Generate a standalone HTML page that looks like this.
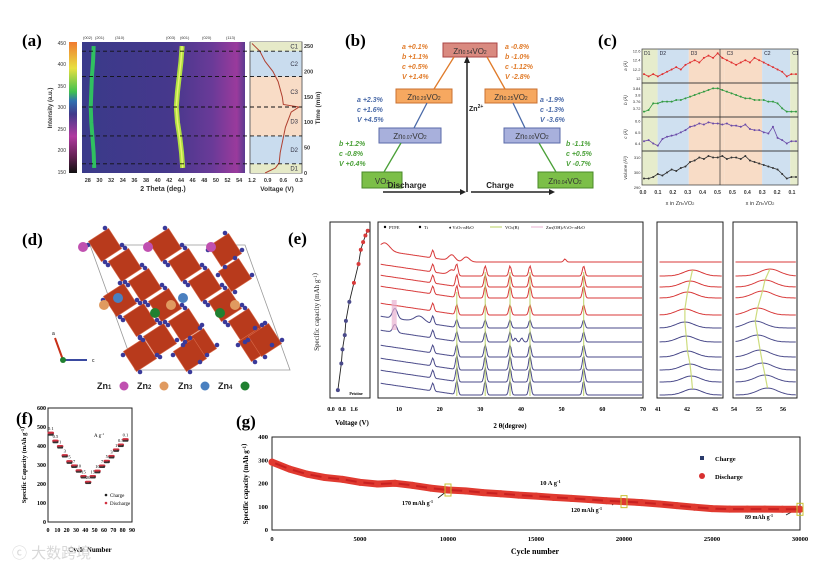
<!DOCTYPE html>
<html><head><meta charset="utf-8">
<style>
html,body{margin:0;padding:0;background:#fff;}
svg{display:block;font-family:"Liberation Serif",serif;}
.s{font-family:"Liberation Sans",sans-serif;}
</style></head>
<body>
<svg id="fig" width="830" height="565" viewBox="0 0 830 565" xmlns="http://www.w3.org/2000/svg">
<defs>
<linearGradient id="cbar" x1="0" y1="0" x2="0" y2="1">
<stop offset="0" stop-color="#f07a30"/><stop offset="0.2" stop-color="#e8e040"/><stop offset="0.38" stop-color="#40c050"/><stop offset="0.45" stop-color="#3070b0"/><stop offset="0.55" stop-color="#403a8a"/><stop offset="0.72" stop-color="#b03aa0"/><stop offset="0.88" stop-color="#602050"/><stop offset="1" stop-color="#101010"/>
</linearGradient>
<linearGradient id="hm" x1="0" y1="0" x2="1" y2="0">
<stop offset="0" stop-color="#3a3a8a"/><stop offset="0.55" stop-color="#46388c"/><stop offset="0.8" stop-color="#6a3a98"/><stop offset="0.95" stop-color="#9a3a9c"/><stop offset="1" stop-color="#5a3a90"/>
</linearGradient>
</defs>
<rect width="830" height="565" fill="#fff"/>

<g id="pa">
<text x="22" y="46" font-size="17" font-weight="bold">(a)</text>
<rect x="69" y="42" width="8" height="131" fill="url(#cbar)"/>
<rect x="82" y="42" width="163" height="131" fill="url(#hm)"/>
<rect x="250" y="42" width="52" height="131" fill="#fff" stroke="#444" stroke-width="0.8"/>
<g class="s" font-size="5" fill="#333" text-anchor="end">
<text x="66" y="45">450</text><text x="66" y="66">400</text><text x="66" y="88">350</text><text x="66" y="109">300</text><text x="66" y="131">250</text><text x="66" y="152">200</text><text x="66" y="174">150</text>
</g>
<text class="s" transform="translate(52,108) rotate(-90)" font-size="6" font-weight="bold" text-anchor="middle" fill="#333">Intensity (a.u.)</text>
<g class="s" font-size="4" fill="#333">
<text x="83" y="39">(002)</text><text x="95" y="39">(201)</text><text x="115" y="39">(310)</text><text x="166" y="39">(003)</text><text x="180" y="39">(601)</text><text x="202" y="39">(020)</text><text x="226" y="39">(113)</text>
</g>
<text class="s" x="163" y="191" font-size="7" font-weight="bold" text-anchor="middle" fill="#333">2 Theta (deg.)</text>
<text class="s" x="277" y="191" font-size="6.5" font-weight="bold" text-anchor="middle" fill="#333">Voltage (V)</text>
<text class="s" transform="translate(320,108) rotate(-90)" font-size="6.5" font-weight="bold" text-anchor="middle" fill="#333">Time (min)</text>
<g id="pa-dyn"></g>
</g>

<g id="pb" class="s">
<text x="345" y="46" font-size="17" font-weight="bold" font-family="Liberation Serif,serif">(b)</text>
<rect x="443" y="43" width="54" height="14" fill="#d98a80" stroke="#a44"/>
<text x="470" y="54" font-size="8" text-anchor="middle" fill="#333">Zn<tspan font-size="5">0.54</tspan>VO<tspan font-size="5">2</tspan></text>
<rect x="396" y="89" width="56" height="14" fill="#f6a860" stroke="#c97030"/>
<text x="424" y="100" font-size="8" text-anchor="middle" fill="#333">Zn<tspan font-size="5">0.29</tspan>VO<tspan font-size="5">2</tspan></text>
<rect x="379" y="128" width="62" height="15" fill="#a8b0dc" stroke="#5a6aa8"/>
<text x="410" y="139" font-size="8" text-anchor="middle" fill="#333">Zn<tspan font-size="5">0.07</tspan>VO<tspan font-size="5">2</tspan></text>
<rect x="362" y="172" width="40" height="16" fill="#7cbf48" stroke="#4a8a28"/>
<text x="382" y="184" font-size="8" text-anchor="middle" fill="#333">VO<tspan font-size="5">2</tspan></text>
<rect x="485" y="89" width="52" height="14" fill="#f6a860" stroke="#c97030"/>
<text x="511" y="100" font-size="8" text-anchor="middle" fill="#333">Zn<tspan font-size="5">0.25</tspan>VO<tspan font-size="5">2</tspan></text>
<rect x="504" y="128" width="56" height="15" fill="#a8b0dc" stroke="#5a6aa8"/>
<text x="532" y="139" font-size="8" text-anchor="middle" fill="#333">Zn<tspan font-size="5">0.00</tspan>VO<tspan font-size="5">2</tspan></text>
<rect x="538" y="172" width="55" height="16" fill="#7cbf48" stroke="#4a8a28"/>
<text x="565" y="184" font-size="8" text-anchor="middle" fill="#333">Zn<tspan font-size="5">0.04</tspan>VO<tspan font-size="5">2</tspan></text>
<g stroke-width="1.3" fill="none">
<line x1="384" y1="172" x2="401" y2="143" stroke="#4aa038"/>
<line x1="414" y1="128" x2="427" y2="103" stroke="#4a6aa8"/>
<line x1="434" y1="89" x2="454" y2="57" stroke="#e07b2a"/>
<line x1="487" y1="57" x2="505" y2="89" stroke="#e07b2a"/>
<line x1="513" y1="103" x2="525" y2="128" stroke="#4a6aa8"/>
<line x1="539" y1="143" x2="556" y2="172" stroke="#4aa038"/>
<line x1="467" y1="192" x2="467" y2="60" stroke="#222" stroke-width="1.5"/>
<line x1="383" y1="192" x2="462" y2="192" stroke="#222" stroke-width="1.5"/>
<line x1="471" y1="192" x2="551" y2="192" stroke="#222" stroke-width="1.5"/>
</g>
<g fill="#222">
<path d="M467,56 l-3,7 h6z"/><path d="M466,192 l-6,-3 v6z"/><path d="M555,192 l-6,-3 v6z"/>
</g>
<text x="407" y="188" font-size="8" font-weight="bold" text-anchor="middle" fill="#222">Discharge</text>
<text x="500" y="188" font-size="8" font-weight="bold" text-anchor="middle" fill="#222">Charge</text>
<text x="469" y="111" font-size="7" font-weight="bold" fill="#222">Zn<tspan font-size="5" dy="-3">2+</tspan></text>
<g font-size="7" font-weight="bold" font-style="italic">
<g fill="#e07b2a"><text x="402" y="49">a +0.1%</text><text x="402" y="59">b +1.1%</text><text x="402" y="69">c +0.5%</text><text x="402" y="79">V +1.4%</text>
<text x="505" y="49">a -0.8%</text><text x="505" y="59">b -1.0%</text><text x="505" y="69">c -1.12%</text><text x="505" y="79">V -2.8%</text></g>
<g fill="#4a6aa8"><text x="357" y="102">a +2.3%</text><text x="357" y="112">c +1.6%</text><text x="357" y="122">V +4.5%</text>
<text x="540" y="102">a -1.9%</text><text x="540" y="112">c -1.3%</text><text x="540" y="122">V -3.6%</text></g>
<g fill="#4aa038"><text x="339" y="146">b +1.2%</text><text x="339" y="156">c -0.8%</text><text x="339" y="166">V +0.4%</text>
<text x="566" y="146">b -1.1%</text><text x="566" y="156">c +0.5%</text><text x="566" y="166">V -0.7%</text></g>
</g>
</g>

<g id="pc" class="s">
<text x="598" y="46" font-size="17" font-weight="bold" font-family="Liberation Serif,serif">(c)</text>
<g id="pc-dyn"></g>
<text x="680" y="205" font-size="5.5" text-anchor="middle" fill="#333">x in Zn<tspan font-size="4">x</tspan>VO<tspan font-size="4">2</tspan></text>
<text x="760" y="205" font-size="5.5" text-anchor="middle" fill="#333">x in Zn<tspan font-size="4">x</tspan>VO<tspan font-size="4">2</tspan></text>
</g>

<g id="pd">
<text x="22" y="245" font-size="17" font-weight="bold">(d)</text>
<g id="pd-dyn"></g>
<g class="s" font-size="9" font-weight="bold" fill="#222">
<text x="97" y="389">Zn<tspan font-size="6">1</tspan></text><circle cx="124" cy="386" r="4.5" fill="#c050b0"/>
<text x="137" y="389">Zn<tspan font-size="6">2</tspan></text><circle cx="164" cy="386" r="4.5" fill="#e09a60"/>
<text x="178" y="389">Zn<tspan font-size="6">3</tspan></text><circle cx="205" cy="386" r="4.5" fill="#4a80c0"/>
<text x="218" y="389">Zn<tspan font-size="6">4</tspan></text><circle cx="245" cy="386" r="4.5" fill="#208030"/>
</g>
<g>
<line x1="63" y1="360" x2="55" y2="338" stroke="#c83018" stroke-width="2"/>
<line x1="63" y1="360" x2="87" y2="360" stroke="#3a4aa0" stroke-width="2"/>
<circle cx="63" cy="360" r="3" fill="#208030"/>
<text x="52" y="335" font-size="5" class="s">a</text><text x="92" y="362" font-size="5" class="s">c</text>
</g>
</g>

<g id="pe">
<text x="288" y="244" font-size="17" font-weight="bold">(e)</text>
<rect x="330" y="222" width="40" height="176" fill="none" stroke="#222"/>
<rect x="378" y="222" width="265" height="176" fill="none" stroke="#222"/>
<rect x="657" y="222" width="66" height="176" fill="none" stroke="#222"/>
<rect x="733" y="222" width="64" height="176" fill="none" stroke="#222"/>
<text transform="translate(319,312) rotate(-90)" font-size="7" text-anchor="middle" fill="#222">Specific capacity (mAh g<tspan font-size="5" dy="-2">-1</tspan>)</text>
<text x="352" y="425" font-size="7" font-weight="bold" text-anchor="middle">Voltage (V)</text>
<text x="510" y="428" font-size="7" font-weight="bold" text-anchor="middle">2 θ(degree)</text>
<g font-size="6" font-weight="bold" text-anchor="middle"><text x="331" y="411">0.0</text><text x="342" y="411">0.8</text><text x="354" y="411">1.6</text></g>
<text x="356" y="395" font-size="4" font-weight="bold" text-anchor="middle">Pristine</text>
<g font-size="4.5">
<circle cx="385" cy="227" r="1.2"/><text x="389" y="229">PTFE</text>
<circle cx="420" cy="227" r="1.2"/><text x="424" y="229">Ti</text>
<text x="449" y="229">♦ V<tspan font-size="3">2</tspan>O<tspan font-size="3">5</tspan>·nH<tspan font-size="3">2</tspan>O</text>
<line x1="490" y1="227" x2="502" y2="227" stroke="#b8d060"/><text x="505" y="229">VO<tspan font-size="3">2</tspan>(B)</text>
<line x1="531" y1="227" x2="543" y2="227" stroke="#e8b0d0"/><text x="546" y="229">Zn<tspan font-size="3">3</tspan>(OH)<tspan font-size="3">2</tspan>V<tspan font-size="3">2</tspan>O<tspan font-size="3">7</tspan>·nH<tspan font-size="3">2</tspan>O</text>
</g>
<g id="pe-dyn"></g>
</g>

<g id="pf">
<text x="16" y="424" font-size="17" font-weight="bold">(f)</text>
<rect x="48" y="408" width="84" height="114" fill="none" stroke="#222"/>
<text transform="translate(26,465) rotate(-90)" font-size="6.5" font-weight="bold" text-anchor="middle">Specific Capacity (mAh g<tspan font-size="4.5" dy="-2">-1</tspan>)</text>
<text x="90" y="552" font-size="7" font-weight="bold" text-anchor="middle">Cycle Number</text>
<text x="94" y="437" font-size="5">A g<tspan font-size="3.5" dy="-2">-1</tspan></text>
<g font-size="5">
<circle cx="106" cy="495" r="1.3" fill="#222"/><text x="110" y="497">Charge</text>
<circle cx="106" cy="503" r="1.3" fill="#d03040"/><text x="110" y="505">Discharge</text>
</g>
<g id="pf-dyn"></g>
</g>

<g id="pg">
<text x="236" y="427" font-size="17" font-weight="bold">(g)</text>
<rect x="272" y="437" width="528" height="93" fill="none" stroke="#222"/>
<text transform="translate(248,484) rotate(-90)" font-size="7" font-weight="bold" text-anchor="middle">Specific capacity (mAh g<tspan font-size="5" dy="-2">-1</tspan>)</text>
<text x="535" y="554" font-size="8" font-weight="bold" text-anchor="middle">Cycle number</text>
<g font-size="6.5" font-weight="bold">
<rect x="700" y="456" width="4" height="4" fill="#2a3a6a"/><text x="715" y="461">Charge</text>
<circle cx="702" cy="476" r="3" fill="#d83030"/><text x="715" y="479">Discharge</text>
</g>
<text x="540" y="485" font-size="6.5" font-weight="bold">10 A g<tspan font-size="4.5" dy="-2">-1</tspan></text>
<g font-size="6" font-weight="bold">
<text x="402" y="505">170 mAh g<tspan font-size="4" dy="-2">-1</tspan></text>
<text x="571" y="512">120 mAh g<tspan font-size="4" dy="-2">-1</tspan></text>
<text x="745" y="519">89 mAh g<tspan font-size="4" dy="-2">-1</tspan></text>
<line x1="438" y1="498" x2="447" y2="491" stroke="#222" stroke-width="0.8"/>
<line x1="612" y1="505" x2="622" y2="499" stroke="#222" stroke-width="0.8"/>
<line x1="786" y1="515" x2="797" y2="509" stroke="#222" stroke-width="0.8"/>
</g>
<g id="pg-dyn"></g>
</g>

<text x="12" y="558" font-size="15" fill="#d8d8d8" font-family="Liberation Sans,'Noto Sans CJK SC',sans-serif">ⓒ 大数跨境</text>
</svg>

<script>
const aTimes = [250, 220, 190, 160, 130, 100, 70, 40, 10];
const aPeakLow = [29.0, 28.9, 28.7, 28.6, 28.5, 28.6, 28.8, 29.0, 29.1];
const aPeakHigh = [44.2, 44.0, 43.7, 43.4, 43.2, 43.4, 43.8, 44.1, 44.3];
const aTimeTicks = [0, 50, 100, 150, 200, 250];
const aThetaTicks = [28, 30, 32, 34, 36, 38, 40, 42, 44, 46, 48, 50, 52, 54];
const aVoltTicks = [1.2, 0.9, 0.6, 0.3];
const aCurveTime = [0, 10, 20, 40, 60, 90, 120, 130, 135, 150, 180, 200, 220, 240, 250, 255];
const aCurveVolt = [0.95, 0.75, 0.68, 0.66, 0.62, 0.56, 0.45, 0.3, 0.6, 0.62, 0.7, 0.8, 0.95, 1.05, 1.15, 1.2];
const aStageBounds = [0, 18, 73, 130, 190, 240, 258];
const aStageNames = ["D1", "D2", "D3", "C3", "C2", "C1"];

const cA = [12.1,12.05,12.1,12.05,12.1,12.15,12.2,12.25,12.2,12.3,12.35,12.4,12.35,12.45,12.5,12.45,12.55,12.45,12.4,12.35,12.3,12.35,12.4,12.35,12.45,12.4,12.35,12.3,12.25,12.2,12.15,12.05,12.1,12.1];
const cB = [3.70,3.71,3.75,3.75,3.76,3.76,3.76,3.77,3.77,3.78,3.79,3.80,3.81,3.82,3.83,3.84,3.84,3.83,3.82,3.81,3.80,3.79,3.78,3.78,3.77,3.77,3.77,3.76,3.76,3.75,3.72,3.70,3.70,3.70];
const cC = [6.42,6.43,6.40,6.38,6.44,6.46,6.47,6.48,6.50,6.52,6.55,6.56,6.58,6.57,6.59,6.58,6.58,6.57,6.58,6.56,6.56,6.55,6.57,6.53,6.52,6.52,6.50,6.49,6.55,6.45,6.43,6.40,6.42,6.42];
const cV = [296,296,297,299,298,300,302,301,303,304,307,308,310,309,311,310,310,311,309,310,310,309,311,308,307,306,305,304,303,302,299,296,297,297];
const cRanges = [[11.95,12.6],[3.68,3.86],[6.35,6.62],[293,313]];
const cYTicks = [[12.0,12.2,12.4,12.6],[3.72,3.76,3.80,3.84],[6.4,6.5,6.6],[290,300,310]];
const cYLabels = ["a (Å)", "b (Å)", "c (Å)", "Volume (Å³)"];
const cXLabels = ["0.0","0.1","0.2","0.3","0.4","0.5","0.5","0.4","0.3","0.2","0.1"];
const cBandEdges = [0, 0.10, 0.30, 0.53, 0.77, 0.95, 1.0];
const cBandNames = ["D1","D2","D3","C3","C2","C1"];

const eTraceTypes = ["red","red","red","red","red","blue","blue","blue","blue","blue","blue"];
const eTraceBase = [262, 276, 287, 298, 315, 328, 342, 357, 370, 382, 395];
const eVO2Peaks = [24.2, 31.2, 37.3, 42.2, 55.4];
const eVO2Height = [0, 10, 12, 12, 10, 8, 10, 12, 14, 14, 14];
const eTiPeak = 18.3;
const ePeak42 = [42.3, 42.2, 42.1, 42.0, 41.9, 41.9, 41.95, 42.0, 42.1, 42.15, 42.2];
const ePeak55 = [55.4, 55.3, 55.1, 55.0, 54.8, 54.7, 54.8, 54.9, 55.0, 55.1, 55.2];
const eXTicks = [10, 20, 30, 40, 50, 60, 70];
const eVolt = [0.3, 0.45, 0.5, 0.6, 0.65, 0.8, 1.0, 1.2, 1.3, 1.4, 1.5, 1.6];
const eCap = [2, 30, 45, 60, 75, 95, 115, 135, 150, 158, 165, 170];

const fRates = ["0.1","0.5","1","3","5","7","10","15","20","15","10","7","5","3","1","0.5","0.1"];
const fCharge = [460,420,392,345,312,290,265,235,205,235,262,290,315,340,375,400,428];
const fDischarge = [468,426,398,350,318,296,270,240,210,240,268,295,320,346,380,406,434];
const fXTicks = [0,10,20,30,40,50,60,70,80,90];
const fYTicks = [0,100,200,300,400,500,600];

const gCycles = [0,1000,2000,3000,4000,5000,6000,7000,8000,9000,10000,11000,12000,13000,14000,15000,16000,17000,18000,19000,20000,21000,22000,23000,24000,25000,26000,27000,28000,29000,30000];
const gCapacity = [292,262,240,226,218,205,198,201,192,180,172,168,161,156,150,146,140,136,131,126,122,118,112,105,98,92,90,90,90,89,89];
const gXTicks = [0,5000,10000,15000,20000,25000,30000];
const gYTicks = [0,100,200,300,400];

const NS = "http://www.w3.org/2000/svg";
function mk(tag, attrs, parent) {
  const el = document.createElementNS(NS, tag);
  for (const k in attrs) el.setAttribute(k, attrs[k]);
  parent.appendChild(el);
  return el;
}
function lin(d0, d1, r0, r1) { return v => r0 + (v - d0) / (d1 - d0) * (r1 - r0); }

(function () {
  const g = document.getElementById("pa-dyn");
  const xT = lin(27, 55, 82, 245);
  const yT = lin(0, 258, 173, 42);
  let d1 = "", d2 = "";
  aTimes.forEach((t, i) => {
    d1 += (i ? "L" : "M") + xT(aPeakLow[i]) + "," + yT(t);
    d2 += (i ? "L" : "M") + xT(aPeakHigh[i]) + "," + yT(t);
  });
  let p = mk("path", { d: d1, stroke: "#30c060", "stroke-width": 4, fill: "none", "stroke-linejoin": "round" }, g);
  
  
  p = mk("path", { d: d2, stroke: "#b0e040", "stroke-width": 5, fill: "none", "stroke-linejoin": "round" }, g);
  
  
  p = mk("path", { d: d2, stroke: "#e8f070", "stroke-width": 1.5, fill: "none" }, g);
  
  
  const bandCol = ["#e6eac8", "#c9dcee", "#f8dcc6", "#f8dcc6", "#c9dcee", "#e6eac8"];
  const xV = lin(1.2, 0.3, 252, 299);
  aStageNames.forEach((n, i) => {
    const r = mk("rect", { x: 250.5, y: yT(aStageBounds[i + 1]), width: 51, height: yT(aStageBounds[i]) - yT(aStageBounds[i + 1]), fill: bandCol[i] }, g);
    
    
    const t = mk("text", { x: 298, y: (yT(aStageBounds[i]) + yT(aStageBounds[i + 1])) / 2 + 2, "font-size": 6, "text-anchor": "end", fill: "#334", class: "s" }, g);
    t.textContent = n;
    
    
  });
  let dv = "";
  aCurveTime.forEach((t, i) => { dv += (i ? "L" : "M") + xV(aCurveVolt[i]) + "," + yT(t); });
  p = mk("path", { d: dv, stroke: "#b04030", "stroke-width": 1, fill: "none" }, g);
  
  
  aStageBounds.slice(1, 6).forEach((b, i) => {
    const l = mk("line", { x1: 82, x2: 302, y1: yT(b), y2: yT(b), stroke: "#111", "stroke-width": 0.9, "stroke-dasharray": "4,3" }, g);
    
    
  });
  aThetaTicks.forEach(v => {
    const t = mk("text", { x: xT(v), y: 182, "font-size": 5.5, "text-anchor": "middle", fill: "#333", class: "s", "font-weight": "bold" }, g);
    t.textContent = v;
    
    
  });
  aVoltTicks.forEach(v => {
    const t = mk("text", { x: xV(v), y: 182, "font-size": 5.5, "text-anchor": "middle", fill: "#333", class: "s", "font-weight": "bold" }, g);
    t.textContent = v.toFixed(1);
    
    
  });
  aTimeTicks.forEach(v => {
    const t = mk("text", { x: 304, y: yT(v) + 2, "font-size": 5.5, fill: "#333", class: "s", "font-weight": "bold" }, g);
    t.textContent = v;
    
    
  });
})();

(function () {
  const g = document.getElementById("pc-dyn");
  const x0 = 642, x1 = 798, y0 = 49, h = 34;
  const bandCol = ["#e6eccc", "#cfe0f0", "#f8dcc6", "#f8dcc6", "#cfe0f0", "#e6eccc"];
  cBandNames.forEach((n, i) => {
    const r = mk("rect", { x: x0 + cBandEdges[i] * (x1 - x0), y: y0, width: (cBandEdges[i + 1] - cBandEdges[i]) * (x1 - x0), height: 4 * h, fill: bandCol[i] }, g);
    
    
    const t = mk("text", { x: x0 + cBandEdges[i] * (x1 - x0) + 2, y: y0 + 6, "font-size": 5, fill: "#223" }, g);
    t.textContent = n;
    
    
  });
  const series = [cA, cB, cC, cV];
  const cols = ["#e03030", "#309a40", "#6a4aa8", "#333"];
  const xs = lin(0, cA.length - 1, x0 + 2, x1 - 2);
  series.forEach((s, k) => {
    const ys = lin(cRanges[k][0], cRanges[k][1], y0 + (k + 1) * h - 2, y0 + k * h + 2);
    let d = "";
    s.forEach((v, i) => { d += (i ? "L" : "M") + xs(i).toFixed(1) + "," + ys(v).toFixed(1); });
    const p = mk("path", { d: d, stroke: cols[k], "stroke-width": 0.8, fill: "none" }, g);
    
    
    s.forEach((v, i) => {
      const c = mk("circle", { cx: xs(i), cy: ys(v), r: 1, fill: cols[k] }, g);
      
      
    });
    cYTicks[k].forEach(v => {
      const t = mk("text", { x: x0 - 1.5, y: ys(v) + 1.5, "font-size": 4, "text-anchor": "end", fill: "#333" }, g);
      t.textContent = v;
      
      
    });
    const t = mk("text", { transform: "translate(" + (x0 - 15) + "," + (y0 + k * h + h / 2) + ") rotate(-90)", "font-size": 4.5, "text-anchor": "middle", fill: "#333", "font-style": "italic" }, g);
    t.textContent = cYLabels[k];
    
    
    const fr = mk("rect", { x: x0, y: y0 + k * h, width: x1 - x0, height: h, fill: "none", stroke: "#333", "stroke-width": 0.7 }, g);
    
    
  });
  const mid = mk("line", { x1: (x0 + x1) / 2, x2: (x0 + x1) / 2, y1: y0, y2: y0 + 4 * h, stroke: "#333", "stroke-width": 0.7 }, g);
  
  
  const xl = lin(0, cXLabels.length - 1, x0 + 1, x1 - 6);
  cXLabels.forEach((v, i) => {
    const t = mk("text", { x: xl(i), y: 194, "font-size": 5, "text-anchor": "middle", fill: "#333", "font-weight": "bold" }, g);
    t.textContent = v;
    
    
  });
})();

(function () {
  const g = document.getElementById("pd-dyn");
  const cell = mk("path", { d: "M90,245 L245,245 L290,370 L135,370 Z", fill: "none", stroke: "#999", "stroke-width": 0.8 }, g);
  
  
  const oct = [[105,245],[125,265],[145,285],[165,305],[185,325],[200,345],[165,245],[185,265],[205,285],[225,305],[245,325],[255,345],
               [120,300],[140,320],[160,340],[225,250],[235,275],[265,340],[190,355],[140,355]];
  oct.forEach(o => {
    const s = 17;
    const p = mk("path", { d: `M${o[0]},${o[1]-s} L${o[0]+s},${o[1]} L${o[0]},${o[1]+s} L${o[0]-s},${o[1]} Z`, fill: "#b83a1c", stroke: "#d86a4a", "stroke-width": 0.6, transform: `rotate(12 ${o[0]} ${o[1]})` }, g);
    
    
  });
  oct.forEach(o => {
    [[0,-17],[17,0],[0,17],[-17,0]].forEach(dd => {
      const c = mk("circle", { cx: o[0] + dd[0], cy: o[1] + dd[1], r: 2.3, fill: "#3a3a9a" }, g);
      
      
    });
  });
  const zn = [[83,247,"#c050b0"],[148,247,"#c050b0"],[211,247,"#c050b0"],[104,305,"#e09a60"],[171,305,"#e09a60"],[235,305,"#e09a60"],[118,298,"#4a80c0"],[183,298,"#4a80c0"],[155,313,"#208030"],[220,313,"#208030"]];
  zn.forEach(z => {
    const c = mk("circle", { cx: z[0], cy: z[1], r: 5, fill: z[2] }, g);
    
    
  });
})();

(function () {
  const g = document.getElementById("pe-dyn");
  const xs = lin(5, 70, 378.7, 643);
  const x2 = lin(40.8, 43.4, 657, 723);
  const x3 = lin(53.8, 56.4, 733, 797);
  const pk = (x, c, w, h) => h * Math.exp(-((x - c) * (x - c)) / (2 * w * w));
  eTraceBase.forEach((b, i) => {
    let d = "";
    for (let x = 5.5; x <= 69.8; x += 0.25) {
      let y = b - Math.max(0, (25 - x)) * 0.6;
      y -= pk(x, eTiPeak, 0.3, 8);
      if (i === 0) { y -= pk(x, 6.5, 1.2, 8) + pk(x, 23, 0.8, 6) + pk(x, 26.5, 0.8, 5) + pk(x, 50.8, 0.3, 3); }
      if (i === 1) { y -= pk(x, 23, 0.8, 5); }
      if (i === 5) { y -= pk(x, 9, 0.6, 10) + pk(x, 15, 1.2, 6); }
      if (i === 6) { y -= pk(x, 9, 0.5, 8) + pk(x, 38.6, 0.3, 4) + pk(x, 40.2, 0.3, 4); }
      eVO2Peaks.forEach(p => { y -= pk(x, p, 0.3, eVO2Height[i]); });
      d += (d ? "L" : "M") + xs(x).toFixed(1) + "," + y.toFixed(1);
    }
    const col = eTraceTypes[i] === "red" ? "#d83a3a" : "#4a4a8a";
    const p = mk("path", { d: d, stroke: col, "stroke-width": 1, fill: "none" }, g);
    
    
    let d2 = "", d3 = "";
    for (let x = 40.9; x <= 43.35; x += 0.05) d2 += (d2 ? "L" : "M") + x2(x).toFixed(1) + "," + (b - pk(x, ePeak42[i], 0.35, i === 0 ? 0 : 6)).toFixed(1);
    for (let x = 53.9; x <= 56.35; x += 0.05) d3 += (d3 ? "L" : "M") + x3(x).toFixed(1) + "," + (b - pk(x, ePeak55[i], 0.4, i === 0 ? 0 : 7)).toFixed(1);
    let q = mk("path", { d: d2, stroke: col, "stroke-width": 1, fill: "none" }, g);
    
    
    q = mk("path", { d: d3, stroke: col, "stroke-width": 1, fill: "none" }, g);
    
    
  });
  // inset guide lines through peak maxima
  let g2 = "", g3 = "";
  eTraceBase.forEach((b, i) => {
    if (i === 0) return;
    g2 += (g2 ? "L" : "M") + x2(ePeak42[i]).toFixed(1) + "," + (b - 6).toFixed(1);
    g3 += (g3 ? "L" : "M") + x3(ePeak55[i]).toFixed(1) + "," + (b - 7).toFixed(1);
  });
  let gl = mk("path", { d: g2, stroke: "#c8d870", "stroke-width": 1.2, fill: "none", opacity: 0.9 }, g);
  
  
  gl = mk("path", { d: g3, stroke: "#c8d870", "stroke-width": 1.2, fill: "none", opacity: 0.9 }, g);
  
  
  eVO2Peaks.forEach((p, k) => {
    const l = mk("line", { x1: xs(p), x2: xs(p), y1: k === 0 ? 292 : 272, y2: 396, stroke: "#b8d060", "stroke-width": 1.2, opacity: 0.8 }, g);
    
    
  });
  const zr = mk("rect", { x: xs(8.2), y: 300, width: 5, height: 30, fill: "#e8b0d0", opacity: 0.7 }, g);
  
  
  eXTicks.forEach(v => {
    const t = mk("text", { x: xs(v), y: 411, "font-size": 6, "text-anchor": "middle", "font-weight": "bold" }, g);
    t.textContent = v;
    
    
  });
  [[41, 658], [42, 687], [43, 715], [54, 734], [55, 759], [56, 783]].forEach(a => {
    const t = mk("text", { x: a[1], y: 411, "font-size": 6, "text-anchor": "middle", "font-weight": "bold" }, g);
    t.textContent = a[0];
    
    
  });
  const xv = lin(0, 1.7, 331, 370);
  const yc = lin(0, 175, 392, 226);
  let d = "";
  eVolt.forEach((v, i) => { d += (i ? "L" : "M") + xv(v) + "," + yc(eCap[i]); });
  const pv = mk("path", { d: d, stroke: "#222", "stroke-width": 0.9, fill: "none" }, g);
  
  
  eVolt.forEach((v, i) => {
    const c = mk("circle", { cx: xv(v), cy: yc(eCap[i]), r: 2, fill: i < 6 ? "#4a4a8a" : "#d83a3a" }, g);
    
    
  });
})();

(function () {
  const g = document.getElementById("pf-dyn");
  const xs = lin(0, 90, 48, 132);
  const ys = lin(0, 600, 522, 408);
  fXTicks.forEach(v => {
    const t = mk("text", { x: xs(v), y: 532, "font-size": 6, "text-anchor": "middle", "font-weight": "bold" }, g);
    t.textContent = v;
    
    
  });
  fYTicks.forEach(v => {
    const t = mk("text", { x: 46, y: ys(v) + 2, "font-size": 6, "text-anchor": "end", "font-weight": "bold" }, g);
    t.textContent = v;
    
    
  });
  fRates.forEach((r, s) => {
    for (let k = 0; k < 5; k++) {
      const cyc = s * 5 + k + 1;
      let c = mk("circle", { cx: xs(cyc), cy: ys(fDischarge[s]), r: 1.4, fill: "#d03040" }, g);
      
      
      c = mk("circle", { cx: xs(cyc), cy: ys(fCharge[s]), r: 1.1, fill: "#333" }, g);
      
      
    }
    const t = mk("text", { x: xs(s * 5 + 3), y: ys(fDischarge[s]) - 3, "font-size": 4.5, "text-anchor": "middle" }, g);
    t.textContent = r;
    
    
  });
})();

(function () {
  const g = document.getElementById("pg-dyn");
  const xs = lin(0, 30000, 272, 800);
  const ys = lin(0, 400, 530, 437);
  gXTicks.forEach(v => {
    const t = mk("text", { x: xs(v), y: 541, "font-size": 6.5, "text-anchor": "middle", "font-weight": "bold" }, g);
    t.textContent = v;
    
    
  });
  gYTicks.forEach(v => {
    const t = mk("text", { x: 268, y: ys(v) + 2, "font-size": 6.5, "text-anchor": "end", "font-weight": "bold" }, g);
    t.textContent = v;
    
    
  });
  let d = "";
  gCycles.forEach((c, i) => { d += (i ? "L" : "M") + xs(c).toFixed(1) + "," + ys(gCapacity[i]).toFixed(1); });
  const band = mk("path", { d: d, stroke: "#e03a30", "stroke-width": 7, fill: "none", "stroke-linejoin": "round", "stroke-linecap": "round" }, g);
  
  
  const core = mk("path", { d: d, stroke: "#c82020", "stroke-width": 2, fill: "none" }, g);
  
  
  gCycles.forEach((c, i) => {
    const m = mk("circle", { cx: xs(c), cy: ys(gCapacity[i]), r: 3.5, fill: "#e03a30" }, g);
    
    
  });
  [10000, 20000, 30000].forEach(c => {
    const i = gCycles.indexOf(c);
    const r = mk("rect", { x: xs(c) - 3, y: ys(gCapacity[i]) - 6, width: 6, height: 12, fill: "none", stroke: "#c8c030", "stroke-width": 1 }, g);
    
    
  });
})();
</script>
</body></html>
